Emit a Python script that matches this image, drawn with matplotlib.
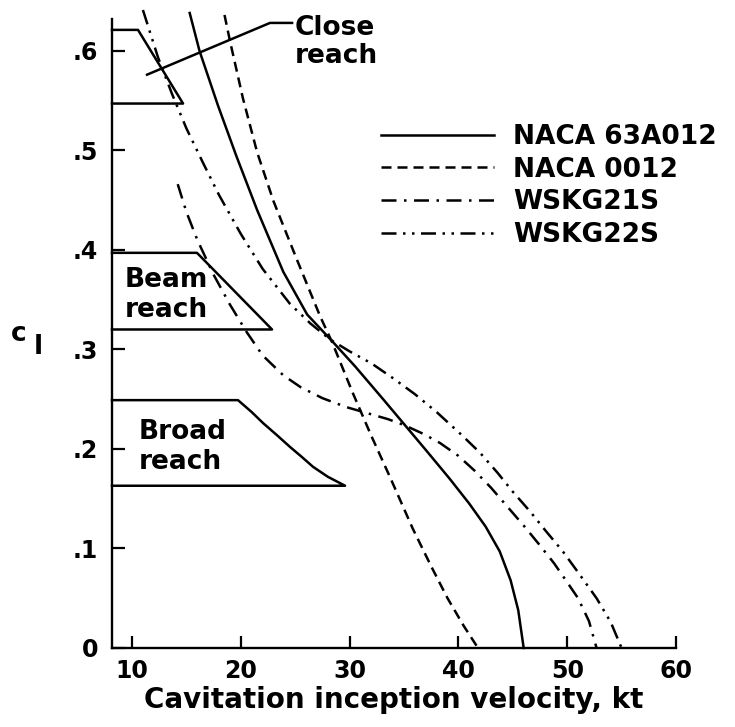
import matplotlib
matplotlib.use('Agg')
import matplotlib.pyplot as plt

plt.rcParams['font.family'] = 'DejaVu Sans'
plt.rcParams['font.weight'] = 'bold'

# curves: (velocity kt, c_l)
naca63a012_x = [15.3, 16.2, 17.9, 19.6, 21.5, 23.9, 26.1, 28.5, 30.5, 33.0, 35.0, 37.0, 39.2, 41.0, 42.5, 43.8, 44.8, 45.5, 46.0]
naca63a012_y = [0.638, 0.600, 0.545, 0.494, 0.440, 0.378, 0.335, 0.307, 0.283, 0.251, 0.225, 0.199, 0.170, 0.145, 0.122, 0.097, 0.068, 0.038, 0.0]

naca0012_x = [18.5, 19.0, 20.2, 21.5, 23.0, 25.2, 27.3, 28.4, 30.3, 32.0, 33.7, 35.8, 37.5, 39.0, 40.5, 41.8]
naca0012_y = [0.636, 0.610, 0.552, 0.498, 0.449, 0.389, 0.333, 0.307, 0.256, 0.213, 0.172, 0.120, 0.082, 0.050, 0.022, 0.0]

wskg21s_x = [14.2, 15.0, 16.0, 17.5, 19.0, 20.5, 22.0, 23.9, 25.5, 27.5, 29.7, 31.6, 33.5, 35.0, 36.8, 38.3, 40.0, 41.5, 43.0, 44.5, 46.0, 47.5, 48.8, 50.0, 51.0, 52.0, 52.7]
wskg21s_y = [0.466, 0.438, 0.410, 0.375, 0.345, 0.318, 0.294, 0.274, 0.262, 0.251, 0.242, 0.236, 0.230, 0.224, 0.215, 0.206, 0.193, 0.178, 0.161, 0.142, 0.123, 0.103, 0.085, 0.066, 0.050, 0.027, 0.0]

wskg22s_x = [11.0, 12.4, 13.7, 15.0, 16.5, 18.0, 20.0, 22.0, 24.5, 26.4, 28.2, 30.0, 32.0, 34.0, 36.0, 38.0, 40.3, 42.0, 43.6, 45.0, 46.6, 48.0, 49.6, 51.0, 52.7, 54.0, 55.0]
wskg22s_y = [0.641, 0.593, 0.556, 0.522, 0.488, 0.455, 0.416, 0.381, 0.346, 0.326, 0.310, 0.298, 0.286, 0.271, 0.255, 0.237, 0.214, 0.196, 0.176, 0.157, 0.137, 0.118, 0.097, 0.076, 0.050, 0.026, 0.0]

# sailing regions (open on the left, closed by the axis)
close_x = [8.16, 10.55, 14.69, 8.16]
close_y = [0.621, 0.621, 0.547, 0.547]
beam_x = [8.16, 15.97, 22.87, 8.16]
beam_y = [0.397, 0.397, 0.320, 0.320]
broad_x = [8.16, 19.74, 21.0, 22.04, 23.3, 24.52, 25.6, 26.64, 28.0, 29.58, 8.16]
broad_y = [0.249, 0.249, 0.237, 0.226, 0.214, 0.202, 0.192, 0.182, 0.172, 0.163, 0.163]
leader_x = [11.38, 22.68, 24.71]
leader_y = [0.576, 0.628, 0.628]

x_ticks = [10, 20, 30, 40, 50, 60]
y_ticks = [0, 0.1, 0.2, 0.3, 0.4, 0.5, 0.6]
y_ticklabels = ['0', '.1', '.2', '.3', '.4', '.5', '.6']

fig = plt.figure(figsize=(7.35, 7.27), dpi=100)
ax = fig.add_axes([0.1524, 0.1087, 0.7673, 0.8762])

lw = 1.8
style = dict(color='black', lw=lw, clip_on=False, solid_joinstyle='round', dash_joinstyle='round')
ax.plot(naca63a012_x, naca63a012_y, label='NACA 63A012', **style)
ax.plot(naca0012_x, naca0012_y, ls=(0, (4, 2.4)), label='NACA 0012', **style)
ax.plot(wskg21s_x, wskg21s_y, ls=(0, (6, 3, 1, 3)), label='WSKG21S', **style)
ax.plot(wskg22s_x, wskg22s_y, ls=(0, (6, 2.6, 1, 2.6, 1, 2.6)), label='WSKG22S', **style)

for bx, by in [(close_x, close_y), (beam_x, beam_y), (broad_x, broad_y), (leader_x, leader_y)]:
    ax.plot(bx, by, **style)

fs = 19
ax.text(24.95, 0.609, 'Close\nreach', fontsize=fs, ha='left', va='center', linespacing=1.1)
ax.text(9.3, 0.355, 'Beam\nreach', fontsize=fs, ha='left', va='center', linespacing=1.2)
ax.text(10.6, 0.202, 'Broad\nreach', fontsize=fs, ha='left', va='center', linespacing=1.2)

ax.set_xlim(8.16, 60)
ax.set_ylim(0, 0.64)
ax.spines['top'].set_visible(False)
ax.spines['right'].set_visible(False)
ax.spines['left'].set_bounds(0, 0.632)
for s in ['left', 'bottom']:
    ax.spines[s].set_linewidth(1.7)

ax.set_xticks(x_ticks)
ax.set_yticks(y_ticks)
ax.set_yticklabels(y_ticklabels)
ax.tick_params(direction='in', length=9, width=1.6, labelsize=17)
ax.tick_params(axis='x', pad=8)
ax.tick_params(axis='y', pad=10)

ax.set_xlabel('Cavitation inception velocity, kt', fontsize=20, fontweight='bold', labelpad=2)
fig.text(19 / 735, 1 - 334 / 727, 'c', fontsize=19, ha='center', va='center')
fig.text(38 / 735, 1 - 347 / 727, 'l', fontsize=19, ha='center', va='center')

ax.legend(loc='upper left', bbox_to_anchor=(381 / 735, 1 - 124 / 727), bbox_transform=fig.transFigure,
          frameon=False, fontsize=19, handlelength=4.3, handletextpad=0.7, labelspacing=0.25,
          borderpad=0, borderaxespad=0)

fig.savefig('out.png', dpi=100)
